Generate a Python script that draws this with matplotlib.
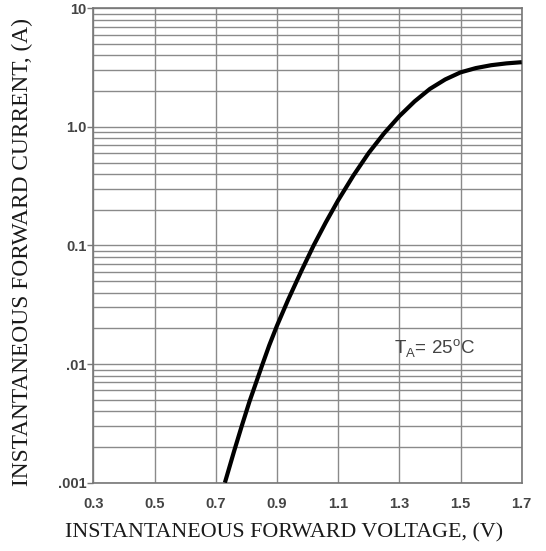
import matplotlib
matplotlib.use("Agg")
import matplotlib.pyplot as plt
from matplotlib.ticker import FixedLocator, LogLocator, NullFormatter, NullLocator

# forward voltage (V) vs instantaneous forward current (A)
volts = [0.73, 0.76, 0.785, 0.81, 0.85, 0.875, 0.90, 0.937, 0.98, 1.02, 1.06,
         1.10, 1.15, 1.20, 1.25, 1.30, 1.35, 1.40, 1.45, 1.50, 1.55, 1.60,
         1.65, 1.70]
amps = [0.001, 0.00184, 0.003, 0.0048, 0.0095, 0.0144, 0.021, 0.035, 0.061,
        0.1, 0.157, 0.24, 0.389, 0.603, 0.881, 1.23, 1.64, 2.09, 2.51, 2.88,
        3.13, 3.31, 3.43, 3.51]

x_ticks = [0.3, 0.5, 0.7, 0.9, 1.1, 1.3, 1.5, 1.7]
x_labels = ["0.3", "0.5", "0.7", "0.9", "1.1", "1.3", "1.5", "1.7"]
y_ticks = [0.001, 0.01, 0.1, 1.0, 10]
y_labels = [".001", ".01", "0.1", "1.0", "10"]

fig = plt.figure(figsize=(5.46, 5.51), dpi=100)
ax = fig.add_axes([0.1709, 0.124, 0.7846, 0.861])

grid_col = "#8a8a8a"
ax.set_yscale("log")
ax.set_xlim(0.3, 1.7)
ax.set_ylim(0.001, 10)

ax.xaxis.set_major_locator(FixedLocator(x_ticks))
ax.set_xticklabels(x_labels)
ax.yaxis.set_major_locator(FixedLocator(y_ticks))
ax.set_yticklabels(y_labels)
ax.yaxis.set_minor_locator(LogLocator(base=10, subs=range(2, 10)))
ax.yaxis.set_minor_formatter(NullFormatter())
ax.xaxis.set_minor_locator(NullLocator())

ax.grid(True, which="major", axis="both", color=grid_col, lw=1.0)
ax.grid(True, which="minor", axis="y", color=grid_col, lw=1.0)

for s in ax.spines.values():
    s.set_color("#777777")
    s.set_linewidth(1.2)

ax.tick_params(axis="x", length=0, pad=10.5, labelsize=10.5, labelcolor="#444444")
ax.tick_params(axis="y", which="major", length=4, width=1, color="#777777",
               pad=1, labelsize=10.5, labelcolor="#444444")
ax.tick_params(axis="y", which="minor", length=0)
for lab in ax.get_xticklabels() + ax.get_yticklabels():
    lab.set_fontweight("bold")
    lab.set_family("Liberation Sans")

ax.plot(volts, amps, color="black", lw=3.0, solid_capstyle="butt", zorder=5)

ax.text(1.283, 0.0137, r"T$_\mathregular{A}$= 25$^\mathregular{o}$C", fontsize=13.5,
        color="#444444", family="Liberation Sans", va="center", ha="left")

ax.set_xlabel("INSTANTANEOUS FORWARD VOLTAGE, (V)", family="Liberation Serif",
              fontsize=15.8, color="#1a1a1a", va="center")
ax.set_ylabel("INSTANTANEOUS FORWARD CURRENT, (A)", family="Liberation Serif",
              fontsize=16.8, color="#1a1a1a", va="center")
ax.xaxis.set_label_coords(0.445, -0.106)
ax.yaxis.set_label_coords(-0.166, 0.486)

fig.savefig("out.png", dpi=100)
